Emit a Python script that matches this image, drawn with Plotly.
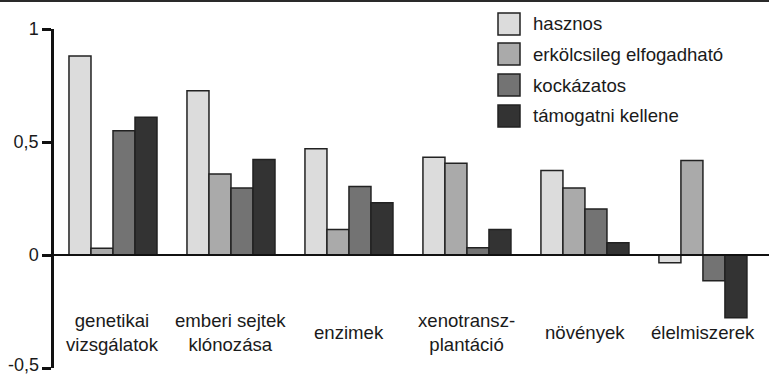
import plotly.graph_objects as go

categories = ["genetikai<br>vizsgálatok", "emberi sejtek<br>klónozása", "enzimek",
              "xenotransz-<br>plantáció", "növények", "élelmiszerek"]
series_names = ["hasznos", "erkölcsileg elfogadható", "kockázatos", "támogatni kellene"]
hasznos = [0.88, 0.727, 0.47, 0.433, 0.374, -0.034]
erkolcsileg = [0.03, 0.358, 0.113, 0.406, 0.296, 0.418]
kockazatos = [0.55, 0.296, 0.303, 0.032, 0.203, -0.114]
tamogatni = [0.61, 0.423, 0.231, 0.113, 0.054, -0.278]
tick_vals = [-0.5, 0, 0.5, 1]
tick_text = ["-0,5", "0", "0,5", "1"]

colors = ["#dcdcdc", "#aaaaaa", "#737373", "#333333"]
values = [hasznos, erkolcsileg, kockazatos, tamogatni]

FONT = "Liberation Sans, Arial, sans-serif"
W, H = 769, 374
L, R, T, B = 54, 0, 29, 6
pw, ph = W - L - R, H - T - B

def px(x):
    return (x - L) / pw

def py(y):
    return (H - B - y) / ph

fig = go.Figure()
for name, vals, col in zip(series_names, values, colors):
    fig.add_trace(go.Bar(
        x=list(range(len(categories))), y=vals, name=name,
        marker=dict(color=col, line=dict(color="#222222", width=1.5)),
        showlegend=False,
    ))

shapes = []
annotations = []
# zero line
shapes.append(dict(type="line", xref="paper", yref="y", x0=0, x1=1, y0=0, y1=0,
                   line=dict(color="#111111", width=2.2), layer="above"))
# top border line (filled thin rect)
shapes.append(dict(type="rect", xref="paper", yref="paper", x0=px(0), x1=px(W),
                   y0=py(2), y1=py(0), fillcolor="#2a2a2a", line=dict(width=0),
                   layer="above"))

# category labels
for i, c in enumerate(categories):
    annotations.append(dict(x=i, y=-0.341, xref="x", yref="y", text=c,
                            showarrow=False, xanchor="center", yanchor="middle",
                            font=dict(family=FONT, size=18.6, color="#1a1a1a")))

# bottom tick label drawn as annotation (nudged up so it stays inside the page)
axis_labels = ["" if v == tick_vals[0] else t for v, t in zip(tick_vals, tick_text)]
annotations.append(dict(x=px(41), y=tick_vals[0], xref="paper", yref="y",
                        text=tick_text[0], showarrow=False, xanchor="right",
                        yanchor="middle", yshift=3,
                        font=dict(family=FONT, size=18, color="#1a1a1a")))

# legend (manual)
leg_centers = [24, 54, 85, 116]
for name, col, cy in zip(series_names, colors, leg_centers):
    shapes.append(dict(type="rect", xref="paper", yref="paper",
                       x0=px(498), x1=px(520), y0=py(cy - 11), y1=py(cy + 11),
                       fillcolor=col, line=dict(color="#222222", width=1.5)))
    annotations.append(dict(x=px(531), y=py(cy), xref="paper", yref="paper",
                            text=name, showarrow=False, xanchor="left", yanchor="middle",
                            font=dict(family=FONT, size=18.6, color="#1a1a1a")))

fig.update_layout(
    width=W, height=H,
    margin=dict(l=L, r=R, t=T, b=B, pad=0, autoexpand=False),
    paper_bgcolor="white", plot_bgcolor="white",
    barmode="group", bargap=0.254, bargroupgap=0,
    separators=", ",
    showlegend=False,
    font=dict(family=FONT, size=18, color="#1a1a1a"),
    xaxis=dict(range=[-0.5, 5.56], showticklabels=False, ticks="", showgrid=False,
               zeroline=False, showline=False),
    yaxis=dict(range=[-0.5, 1], tickvals=tick_vals, ticktext=axis_labels,
               ticks="outside", ticklen=9, tickwidth=2.5, tickcolor="#111111",
               showline=True, linewidth=2.5, linecolor="#111111",
               showgrid=False, zeroline=False, ticklabeloverflow="allow",
               tickfont=dict(family=FONT, size=18, color="#1a1a1a")),
    shapes=shapes, annotations=annotations,
)

fig.write_html("out.html", config={"displayModeBar": False},
               post_script="document.body.style.margin='0';document.body.style.padding='0';")
